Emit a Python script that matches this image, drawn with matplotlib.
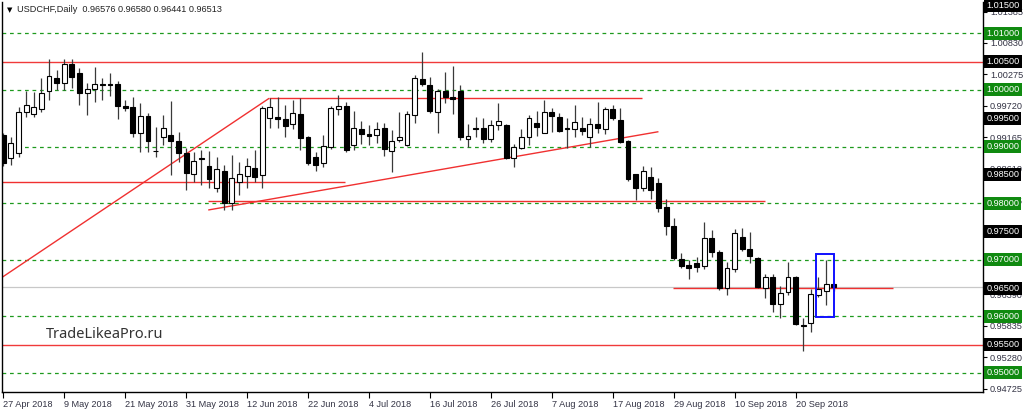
import matplotlib
matplotlib.use("Agg")
import matplotlib.pyplot as plt
from matplotlib.patches import Rectangle
import matplotlib.transforms as mtransforms

plt.rcParams["font.family"] = ["Liberation Sans", "DejaVu Sans"]

opens = [0.99204, 0.98792, 0.98880, 0.99604, 0.99569, 0.99663, 0.99986, 1.00205, 1.00117, 1.00457,
         1.00304, 0.99940, 1.00011, 1.00099, 1.00104, 1.00099, 0.99716, 0.99693, 0.99233, 0.99539,
         0.98929, 0.99163, 0.99204, 0.99097, 0.98880, 0.98509, 0.98802, 0.98656, 0.98262, 0.98567,
         0.97997, 0.98378, 0.98484, 0.98626, 0.98497, 0.99509, 0.99527, 0.99481, 0.99398, 0.99569,
         0.99163, 0.98820, 0.98703, 0.98997, 0.99668, 0.99716, 0.99027, 0.99309, 0.99216, 0.99204,
         0.99332, 0.98926, 0.99115, 0.99027, 0.99557, 1.00187, 1.00087, 0.99615, 0.99986, 0.99869,
         0.99986, 0.99127, 0.99332, 0.99332, 0.99127, 0.99380, 0.99380, 0.98792, 0.98968, 0.99163,
         0.99421, 0.99244, 0.99604, 0.99516, 0.99327, 0.99304, 0.99332, 0.99163, 0.99392, 0.99309,
         0.99657, 0.99468, 0.99103, 0.98509, 0.98262, 0.98456, 0.98361, 0.97926, 0.97601, 0.97013,
         0.96907, 0.96937, 0.96894, 0.97389, 0.97131, 0.96495, 0.96836, 0.97407, 0.97184, 0.97036,
         0.96506, 0.96690, 0.96213, 0.96425, 0.96690, 0.95856, 0.95877, 0.96377, 0.96453, 0.96576]
highs = [0.99239, 0.99173, 0.99703, 0.99986, 0.99968, 1.00205, 1.00541, 1.00351, 1.00541, 1.00541,
         1.00382, 1.00117, 1.00399, 1.00205, 1.00304, 1.00162, 0.99822, 0.99880, 0.99763, 0.99592,
         0.99350, 0.99557, 0.99804, 0.99262, 0.98968, 0.98908, 0.98938, 0.98921, 0.98820, 0.98674,
         0.98850, 0.98721, 0.98802, 0.98938, 0.99721, 0.99862, 0.99880, 0.99733, 0.99822, 0.99852,
         0.99186, 0.98908, 0.99204, 0.99716, 0.99910, 0.99792, 0.99633, 0.99456, 0.99380, 0.99438,
         0.99410, 0.99292, 0.99615, 0.99633, 1.00263, 1.00669, 1.00223, 1.00011, 1.00321, 1.00422,
         1.00087, 0.99398, 0.99516, 0.99498, 0.99468, 0.99763, 0.99398, 0.99044, 0.99309, 0.99557,
         0.99633, 0.99822, 0.99675, 0.99587, 0.99498, 0.99733, 0.99516, 0.99498, 0.99792, 0.99703,
         0.99733, 0.99675, 0.99110, 0.98515, 0.98656, 0.98633, 0.98438, 0.98067, 0.97732, 0.97124,
         0.96995, 0.97053, 0.97661, 0.97525, 0.97172, 0.96965, 0.97543, 0.97566, 0.97484, 0.97053,
         0.96743, 0.96743, 0.96541, 0.96965, 0.96718, 0.95965, 0.96483, 0.96700, 0.96995, 0.96580]
lows = [0.98656, 0.98674, 0.98820, 0.99527, 0.99527, 0.99615, 0.99822, 0.99998, 0.99998, 1.00028,
        0.99733, 0.99557, 0.99792, 0.99822, 0.99892, 0.99481, 0.99627, 0.99163, 0.98908, 0.98908,
        0.98820, 0.99027, 0.98497, 0.98732, 0.98232, 0.98378, 0.98320, 0.98262, 0.98202, 0.97878,
        0.97878, 0.98143, 0.98272, 0.98378, 0.98262, 0.99322, 0.99322, 0.99163, 0.99304, 0.98938,
        0.98674, 0.98573, 0.98633, 0.98951, 0.99557, 0.98908, 0.98938, 0.99044, 0.99027, 0.99067,
        0.98832, 0.98555, 0.99085, 0.99009, 0.99421, 1.00069, 0.99587, 0.99244, 0.99763, 0.99574,
        0.99115, 0.98986, 0.99163, 0.99057, 0.99085, 0.99292, 0.98774, 0.98643, 0.98951, 0.99027,
        0.99186, 0.99233, 0.99262, 0.99262, 0.98968, 0.99173, 0.99204, 0.98997, 0.99233, 0.99221,
        0.99468, 0.99067, 0.98396, 0.98055, 0.98219, 0.98067, 0.97848, 0.97437, 0.96995, 0.96849,
        0.96654, 0.96788, 0.96836, 0.97053, 0.96465, 0.96377, 0.96788, 0.97154, 0.96937, 0.96495,
        0.96319, 0.96082, 0.95965, 0.96377, 0.95847, 0.95388, 0.95729, 0.96347, 0.96200, 0.96441]
closes = [0.98709, 0.99057, 0.99615, 0.99733, 0.99703, 0.99940, 1.00246, 1.00117, 1.00457, 1.00233,
          0.99940, 1.00016, 1.00104, 1.00081, 1.00092, 0.99716, 0.99680, 0.99244, 0.99539, 0.99097,
          0.98921, 0.99322, 0.99097, 0.98880, 0.98527, 0.98744, 0.98779, 0.98421, 0.98597, 0.97997,
          0.98449, 0.98509, 0.98656, 0.98467, 0.99675, 0.99703, 0.99481, 0.99362, 0.99597, 0.99145,
          0.98714, 0.98674, 0.99009, 0.99675, 0.99716, 0.98938, 0.99322, 0.99221, 0.99191, 0.99309,
          0.98951, 0.99103, 0.99163, 0.99569, 1.00205, 1.00104, 0.99633, 0.99986, 0.99869, 0.99834,
          0.99163, 0.99191, 0.99309, 0.99127, 0.99380, 0.99451, 0.98792, 0.98986, 0.99173, 0.99498,
          0.99339, 0.99615, 0.99539, 0.99279, 0.99309, 0.99428, 0.99279, 0.99398, 0.99332, 0.99657,
          0.99498, 0.99085, 0.98421, 0.98262, 0.98567, 0.98232, 0.97908, 0.97596, 0.97025, 0.96889,
          0.96859, 0.96877, 0.97389, 0.97142, 0.96495, 0.96859, 0.97467, 0.97189, 0.97071, 0.96524,
          0.96690, 0.96213, 0.96418, 0.96690, 0.95859, 0.95829, 0.96395, 0.96483, 0.96566, 0.96513]

date_ticks = [0, 8, 16, 24, 32, 40, 48, 56, 64, 72, 80, 88, 96, 104]
date_labels = ["27 Apr 2018", "9 May 2018", "21 May 2018", "31 May 2018", "12 Jun 2018",
               "22 Jun 2018", "4 Jul 2018", "16 Jul 2018", "26 Jul 2018", "7 Aug 2018",
               "17 Aug 2018", "29 Aug 2018", "10 Sep 2018", "20 Sep 2018"]

scale_ticks = [1.01385, 1.00830, 1.00275, 0.99720, 0.99165, 0.98610, 0.98055, 0.97500,
               0.96945, 0.96390, 0.95835, 0.95280, 0.94725]
green_levels = [1.010, 1.000, 0.990, 0.980, 0.970, 0.960, 0.950]
black_labels = [1.015, 1.005, 0.995, 0.985, 0.975, 0.965, 0.955]
full_red_levels = [1.005, 0.955]
bid_price = 0.96513

# segments: (x0, y0, x1, y1) in bar index / price
red_segments = [
    (-0.2, 0.96686, 34.9, 0.99852),
    (34.9, 0.99855, 83.9, 0.99855),
    (-0.2, 0.98373, 44.8, 0.98373),
    (26.9, 0.98038, 100.0, 0.98038),
    (26.9, 0.97879, 86.0, 0.99262),
    (87.9, 0.96500, 116.8, 0.96500),
]
box_rect = (106.7, 0.95994, 109.05, 0.97096)

W, H = 1024, 412
fig = plt.figure(figsize=(W / 100, H / 100), dpi=100)
ax = fig.add_axes([2 / W, (H - 392) / H, 981 / W, 390 / H])
ax.set_xlim(-0.17, 128.6)
ax.set_ylim(0.94664, 1.01553)

for lv in green_levels:
    ax.axhline(lv, color="#1e9a1e", lw=0.9, ls=(0, (3, 3)), zorder=1)
for lv in full_red_levels:
    ax.axhline(lv, color="#f03a3a", lw=1.0, zorder=1)
ax.axhline(bid_price, color="#c8c8c8", lw=0.9, zorder=1)
for x0, y0, x1, y1 in red_segments:
    ax.plot([x0, x1], [y0, y1], color="#f03030", lw=1.0, zorder=1.5, solid_capstyle="butt")

idx = list(range(len(opens)))
ax.vlines(idx, lows, highs, color="#3a3a3a", lw=0.9, zorder=2)
for i in idx:
    o, c = opens[i], closes[i]
    bottom = min(o, c)
    height = max(abs(c - o), 0.00005)
    face = "black" if c < o else "white"
    ax.bar(i, height, bottom=bottom, width=0.64, color=face, edgecolor="black",
           linewidth=0.8, zorder=3)

bx0, by0, bx1, by1 = box_rect
ax.add_patch(Rectangle((bx0, by0), bx1 - bx0, by1 - by0, fill=False,
                       edgecolor="#1010ff", lw=1.4, zorder=4))

ax.spines["top"].set_visible(False)
for s in ["left", "bottom", "right"]:
    ax.spines[s].set_color("black")
    ax.spines[s].set_linewidth(1.0)

ax.yaxis.tick_right()
ax.set_yticks(scale_ticks)
ax.set_yticklabels([f"{v:.5f}" for v in scale_ticks])
ax.tick_params(axis="y", length=3, width=0.8, pad=2, labelsize=6.6, labelcolor="#333344")
ax.set_xticks(date_ticks)
ax.set_xticklabels(date_labels, ha="left")
ax.tick_params(axis="x", length=4, width=0.8, pad=2, labelsize=6.6, labelcolor="#333344")

trans = mtransforms.blended_transform_factory(ax.transAxes, ax.transData)
for lv in green_levels:
    ax.text(1.0035, lv, f"{lv:.5f}", transform=trans, fontsize=6.6, color="white",
            va="center", ha="left", clip_on=False, zorder=6,
            bbox=dict(boxstyle="square,pad=0.22", fc="#108a10", ec="none"))
for lv in black_labels:
    ax.text(1.0035, lv, f"{lv:.5f}", transform=trans, fontsize=6.6, color="white",
            va="center", ha="left", clip_on=False, zorder=6,
            bbox=dict(boxstyle="square,pad=0.22", fc="black", ec="none"))

fig.text(7 / W, 1 - 10 / H, "▼", fontsize=5, color="black", va="center", ha="left",
         family="DejaVu Sans")
fig.text(17 / W, 1 - 10 / H, "USDCHF,Daily  0.96576 0.96580 0.96441 0.96513",
         fontsize=6.6, color="#222222", va="center", ha="left")
fig.text(46 / W, 1 - 335 / H, "TradeLikeaPro.ru", fontsize=10.5, color="#333333",
         va="center", ha="left", family="Noto Sans")

fig.savefig("out.png", dpi=100, facecolor="white")
